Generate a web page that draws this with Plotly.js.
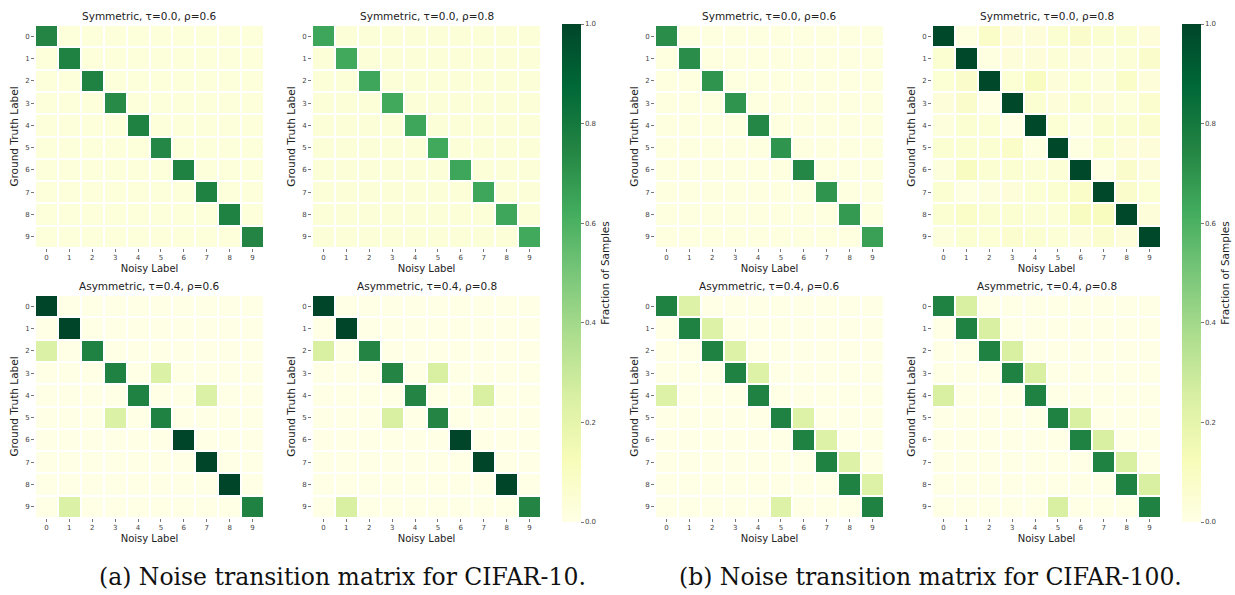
<!DOCTYPE html>
<html>
<head>
<meta charset="utf-8">
<script src="https://cdn.plot.ly/plotly-3.0.1.min.js"></script>
<style>html,body{margin:0;padding:0;background:#fff;}#chart{width:1235px;height:595px;}</style>
</head>
<body>
<div id="chart"></div>
<script>
// ---------- data ----------
const labels = ['0','1','2','3','4','5','6','7','8','9'];
const classIdx = [0,1,2,3,4,5,6,7,8,9];
const xTitle = 'Noisy Label';
const yTitle = 'Ground Truth Label';
const cbTitle = 'Fraction of Samples';
const cbTickVals = [0, 0.2, 0.4, 0.6, 0.8, 1.0];
const cbTickText = ['0.0','0.2','0.4','0.6','0.8','1.0'];
const captions = ['(a) Noise transition matrix for CIFAR-10.', '(b) Noise transition matrix for CIFAR-100.'];
const panelTitles = [
  'Symmetric, τ=0.0, ρ=0.6', 'Symmetric, τ=0.0, ρ=0.8',
  'Asymmetric, τ=0.4, ρ=0.6', 'Asymmetric, τ=0.4, ρ=0.8',
  'Symmetric, τ=0.0, ρ=0.6', 'Symmetric, τ=0.0, ρ=0.8',
  'Asymmetric, τ=0.4, ρ=0.6', 'Asymmetric, τ=0.4, ρ=0.8'
];

const c10_sym_06 = [
  [0.75,0.03,0.03,0.03,0.03,0.03,0.03,0.03,0.03,0.03],
  [0.03,0.76,0.03,0.03,0.03,0.03,0.03,0.03,0.03,0.03],
  [0.03,0.03,0.76,0.03,0.03,0.03,0.03,0.03,0.03,0.03],
  [0.03,0.03,0.03,0.73,0.03,0.03,0.03,0.03,0.03,0.03],
  [0.03,0.03,0.03,0.03,0.76,0.03,0.03,0.03,0.03,0.03],
  [0.03,0.03,0.03,0.03,0.03,0.74,0.03,0.03,0.03,0.03],
  [0.03,0.03,0.03,0.03,0.03,0.03,0.76,0.03,0.03,0.03],
  [0.03,0.03,0.03,0.03,0.03,0.03,0.03,0.76,0.03,0.03],
  [0.03,0.03,0.03,0.03,0.03,0.03,0.03,0.03,0.76,0.03],
  [0.03,0.03,0.03,0.03,0.03,0.03,0.03,0.03,0.03,0.75]
];
const c10_sym_08 = [
  [0.64,0.04,0.04,0.04,0.04,0.04,0.04,0.04,0.04,0.04],
  [0.04,0.63,0.04,0.04,0.04,0.04,0.04,0.04,0.04,0.04],
  [0.04,0.04,0.64,0.04,0.04,0.04,0.04,0.04,0.04,0.04],
  [0.04,0.04,0.04,0.63,0.04,0.04,0.04,0.04,0.04,0.04],
  [0.04,0.04,0.04,0.04,0.64,0.04,0.04,0.04,0.04,0.04],
  [0.04,0.04,0.04,0.04,0.04,0.63,0.04,0.04,0.04,0.04],
  [0.04,0.04,0.04,0.04,0.04,0.04,0.64,0.04,0.04,0.04],
  [0.04,0.04,0.04,0.04,0.04,0.04,0.04,0.64,0.04,0.04],
  [0.04,0.04,0.04,0.04,0.04,0.04,0.04,0.04,0.64,0.04],
  [0.04,0.04,0.04,0.04,0.04,0.04,0.04,0.04,0.04,0.63]
];
const c10_asym_06 = [
  [1.00,0,0,0,0,0,0,0,0,0],
  [0,1.00,0,0,0,0,0,0,0,0],
  [0.24,0,0.76,0,0,0,0,0,0,0],
  [0,0,0,0.76,0,0.24,0,0,0,0],
  [0,0,0,0,0.76,0,0,0.24,0,0],
  [0,0,0,0.24,0,0.76,0,0,0,0],
  [0,0,0,0,0,0,1.00,0,0,0],
  [0,0,0,0,0,0,0,1.00,0,0],
  [0,0,0,0,0,0,0,0,1.00,0],
  [0,0.24,0,0,0,0,0,0,0,0.76]
];
const c10_asym_08 = [
  [1.00,0,0,0,0,0,0,0,0,0],
  [0,1.00,0,0,0,0,0,0,0,0],
  [0.25,0,0.75,0,0,0,0,0,0,0],
  [0,0,0,0.75,0,0.25,0,0,0,0],
  [0,0,0,0,0.75,0,0,0.25,0,0],
  [0,0,0,0.25,0,0.75,0,0,0,0],
  [0,0,0,0,0,0,1.00,0,0,0],
  [0,0,0,0,0,0,0,1.00,0,0],
  [0,0,0,0,0,0,0,0,1.00,0],
  [0,0.25,0,0,0,0,0,0,0,0.75]
];
const c100_sym_06 = [
  [0.72,0.02,0.02,0.02,0.02,0.02,0.02,0.02,0.02,0.02],
  [0.02,0.72,0.02,0.02,0.02,0.02,0.02,0.02,0.02,0.02],
  [0.02,0.02,0.70,0.02,0.02,0.02,0.02,0.02,0.02,0.02],
  [0.02,0.02,0.02,0.70,0.02,0.02,0.02,0.02,0.02,0.02],
  [0.02,0.02,0.02,0.02,0.74,0.02,0.02,0.02,0.02,0.02],
  [0.02,0.02,0.02,0.02,0.02,0.70,0.02,0.02,0.02,0.02],
  [0.02,0.02,0.02,0.02,0.02,0.02,0.74,0.02,0.02,0.02],
  [0.02,0.02,0.02,0.02,0.02,0.02,0.02,0.70,0.02,0.02],
  [0.02,0.02,0.02,0.02,0.02,0.02,0.02,0.02,0.68,0.02],
  [0.02,0.02,0.02,0.02,0.02,0.02,0.02,0.02,0.02,0.66]
];
const c100_sym_08 = [
  [0.99,0.010,0.085,0.035,0.035,0.060,0.075,0.060,0.060,0.035],
  [0.060,0.99,0.010,0.035,0.035,0.045,0.035,0.025,0.045,0.075],
  [0.050,0.075,0.99,0.050,0.105,0.035,0.050,0.025,0.085,0.035],
  [0.035,0.075,0.005,0.99,0.060,0.035,0.060,0.035,0.030,0.065],
  [0.025,0.060,0.050,0.005,0.99,0.050,0.010,0.060,0.060,0.065],
  [0.060,0.060,0.060,0.085,0.010,0.99,0.010,0.060,0.035,0.035],
  [0.025,0.105,0.060,0.060,0.045,0.045,0.99,0.010,0.075,0.035],
  [0.060,0.010,0.025,0.035,0.050,0.060,0.085,0.99,0.075,0.050],
  [0.060,0.085,0.060,0.060,0.045,0.045,0.105,0.110,0.99,0.035],
  [0.025,0.060,0.050,0.065,0.060,0.045,0.035,0.065,0.035,0.99]
];
const c100_asym_06 = [
  [0.76,0.23,0,0,0,0,0,0,0,0],
  [0,0.76,0.23,0,0,0,0,0,0,0],
  [0,0,0.76,0.23,0,0,0,0,0,0],
  [0,0,0,0.76,0.23,0,0,0,0,0],
  [0.23,0,0,0,0.76,0,0,0,0,0],
  [0,0,0,0,0,0.76,0.23,0,0,0],
  [0,0,0,0,0,0,0.76,0.23,0,0],
  [0,0,0,0,0,0,0,0.76,0.23,0],
  [0,0,0,0,0,0,0,0,0.76,0.23],
  [0,0,0,0,0,0.23,0,0,0,0.76]
];
const c100_asym_08 = [
  [0.76,0.25,0,0,0,0,0,0,0,0],
  [0,0.76,0.25,0,0,0,0,0,0,0],
  [0,0,0.76,0.25,0,0,0,0,0,0],
  [0,0,0,0.76,0.25,0,0,0,0,0],
  [0.25,0,0,0,0.76,0,0,0,0,0],
  [0,0,0,0,0,0.76,0.25,0,0,0],
  [0,0,0,0,0,0,0.76,0.25,0,0],
  [0,0,0,0,0,0,0,0.76,0.25,0],
  [0,0,0,0,0,0,0,0,0.76,0.25],
  [0,0,0,0,0,0.25,0,0,0,0.76]
];
const matrices = [c10_sym_06, c10_sym_08, c10_asym_06, c10_asym_08,
                  c100_sym_06, c100_sym_08, c100_asym_06, c100_asym_08];

// ---------- styling / layout ----------
const W = 1235, H = 595;
const FONT = 'DejaVu Sans, sans-serif';
const YlGn = [
  [0.0,'#ffffe5'],[0.125,'#f7fcb9'],[0.25,'#d9f0a3'],[0.375,'#addd8e'],
  [0.5,'#78c679'],[0.625,'#41ab5d'],[0.75,'#238443'],[0.875,'#006837'],[1.0,'#004529']
];
// pixel boxes [left, right, top, bottom]
const boxes = [
  [35,264,25,248],[312,541,25,248],[35,264,295,518],[312,541,295,518],
  [655,884,25,248],[932,1161,25,248],[655,884,295,518],[932,1161,295,518]
];
const cbLeft = [562, 1182];
const cbTop = 24, cbBottom = 522;

function fx(p){return p/W;}
function fy(p){return 1 - p/H;}

const data = [];
const layout = {
  width: W, height: H,
  margin: {l:0,r:0,t:0,b:0,pad:0},
  paper_bgcolor:'#fff', plot_bgcolor:'#fff',
  font: {family: FONT, color:'#222'},
  showlegend:false,
  annotations: []
};

matrices.forEach((m, i) => {
  const n = i + 1;
  const xa = n === 1 ? 'x' : 'x' + n;
  const ya = n === 1 ? 'y' : 'y' + n;
  const b = boxes[i];
  const showCb = (i === 1 || i === 5);
  const tr = {
    type:'heatmap', z: m, x: classIdx, y: classIdx,
    xaxis: xa, yaxis: ya,
    colorscale: YlGn, zmin: 0, zmax: 1,
    xgap: 2, ygap: 2,
    hoverinfo: 'skip',
    showscale: showCb
  };
  if (showCb) {
    tr.colorbar = {
      thickness: 19, thicknessmode:'pixels',
      len: cbBottom - cbTop, lenmode:'pixels',
      x: fx(cbLeft[i === 1 ? 0 : 1]), xanchor:'left',
      y: fy(cbTop), yanchor:'top',
      xpad: 0, ypad: 0, outlinewidth: 0,
      tickmode:'array', tickvals: cbTickVals, ticktext: cbTickText,
      ticks:'outside', ticklen: 3, tickwidth: 0.8, tickcolor:'#555',
      tickfont: {family: FONT, size: 7, color:'#444'},
      title: {text: cbTitle, side:'right', font:{family: FONT, size: 10.5, color:'#222'}}
    };
  }
  data.push(tr);
  const xk = n === 1 ? 'xaxis' : 'xaxis' + n;
  const yk = n === 1 ? 'yaxis' : 'yaxis' + n;
  layout[xk] = {
    domain: [fx(b[0]), fx(b[1])], anchor: ya,
    range: [-0.5, 9.5], tickmode:'array', tickvals: classIdx, ticktext: labels,
    ticks:'outside', ticklen: 3, tickwidth: 0.8, tickcolor:'#555',
    tickfont: {family: FONT, size: 7, color:'#444'},
    showgrid:false, zeroline:false, showline:false, fixedrange:true,
    title: {text: xTitle, font:{family: FONT, size: 10, color:'#222'}, standoff: 3}
  };
  layout[yk] = {
    domain: [fy(b[3]), fy(b[2])], anchor: xa,
    range: [9.5, -0.5], tickmode:'array', tickvals: classIdx, ticktext: labels,
    ticks:'outside', ticklen: 3, tickwidth: 0.8, tickcolor:'#555',
    tickfont: {family: FONT, size: 7, color:'#444'},
    showgrid:false, zeroline:false, showline:false, fixedrange:true,
    title: {text: yTitle, font:{family: FONT, size: 10.5, color:'#222'}, standoff: 4}
  };
  layout.annotations.push({
    text: panelTitles[i], xref:'paper', yref:'paper',
    x: fx((b[0]+b[1])/2), y: fy(b[2] - 9), xanchor:'center', yanchor:'middle',
    showarrow:false, font:{family: FONT, size: 10.5, color:'#222'}
  });
});

layout.annotations.push({
  text: captions[0], xref:'paper', yref:'paper', x: fx(342), y: fy(577),
  xanchor:'center', yanchor:'middle', showarrow:false,
  font:{family:'DejaVu Serif, serif', size: 23.5, color:'#111'}
});
layout.annotations.push({
  text: captions[1], xref:'paper', yref:'paper', x: fx(930), y: fy(577),
  xanchor:'center', yanchor:'middle', showarrow:false,
  font:{family:'DejaVu Serif, serif', size: 23.5, color:'#111'}
});

Plotly.newPlot('chart', data, layout, {staticPlot:true, displayModeBar:false});
</script>
</body>
</html>
